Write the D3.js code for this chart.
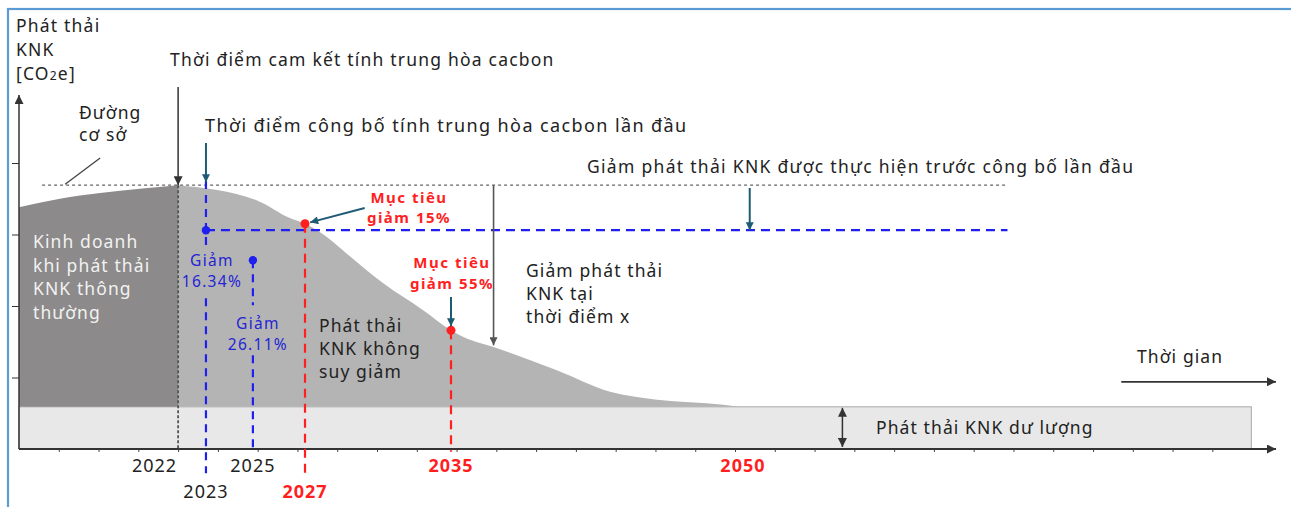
<!DOCTYPE html>
<html>
<head>
<meta charset="utf-8">
<script src="https://cdn.jsdelivr.net/npm/d3@7"></script>
<style>
  body { margin: 0; background: #fff; }
  svg { display: block; font-family: "Noto Sans", sans-serif; }
</style>
</head>
<body>
<div id="chart"></div>
<script>
// x is an abstract time unit (one axis tick = 1), y an abstract emission unit
const bauT = [0, 1.03, 2.04, 3.04, 4.0];
const bauV = [3.38, 3.50, 3.58, 3.64, 3.69];

const unabatedT = [4.0, 6.01, 6.81, 7.19, 7.89, 8.14, 9.15, 10.16, 10.86, 11.16, 12.02, 13.52, 14.86, 16.04, 17.70, 18.12];
const unabatedV = [3.69, 3.47, 3.23, 3.15, 2.90, 2.78, 2.32, 1.94, 1.66, 1.57, 1.41, 1.10, 0.80, 0.69, 0.62, 0.59];

const residualV = 0.59;
const residualEndT = 30.98;
const baselineV = 3.69;
const baselineT = [0.58, 24.85];

const yearLabels = ["2022", "2023", "2025", "2027", "2035", "2050"];
const yearT = [4.0, 4.7, 5.88, 7.19, 10.86, 18.2];
const yearRow = [0, 1, 0, 1, 0, 0];
const yearRed = [false, false, false, true, true, true];

const cutLabels = ["16.34%", "26.11%"];
const cutT = [4.7, 5.88];
const cutV = [3.06, 2.64];

const targetLabels = ["giảm 15%", "giảm 55%"];
const targetT = [7.19, 10.86];
const targetV = [3.15, 1.66];

const yTicks = [1, 2, 3, 4];
const xTicks = [1, 2, 3, 4, 5, 6, 7, 8, 9, 10, 11, 12, 13, 14, 15, 16, 17, 18, 19, 20, 21, 22, 23, 24, 25, 26, 27, 28, 29, 30];

const W = 1291, H = 507;
const BLUE = "#1f1ff0", BLUE_TXT = "#2424d4", RED = "#ff1f1f", TEAL = "#1d5b74", INK = "#222";

const svg = d3.select("#chart").append("svg").attr("width", W).attr("height", H);

const x = d3.scaleLinear().domain([0, 31.6]).range([19, 1276]);
const y = d3.scaleLinear().domain([0, 5]).range([449, 91.5]);

// arrow heads
const defs = svg.append("defs");
function marker(id, color, w, h) {
  defs.append("marker").attr("id", id)
    .attr("viewBox", "0 0 10 10").attr("refX", 10).attr("refY", 5)
    .attr("markerUnits", "userSpaceOnUse").attr("markerWidth", w).attr("markerHeight", h)
    .attr("orient", "auto-start-reverse")
    .append("path").attr("d", "M0,0L10,5L0,10Z").attr("fill", color);
}
marker("ink", "#333", 11, 9);
marker("gray", "#555", 11, 8);
marker("teal", TEAL, 10, 8);

// frame
svg.append("rect").attr("x", 8).attr("y", 9).attr("width", W).attr("height", H)
  .attr("fill", "none").attr("stroke", "#5b9bd5").attr("stroke-width", 2.2);

// residual band
svg.append("rect")
  .attr("x", x(0)).attr("y", y(residualV))
  .attr("width", x(residualEndT) - x(0)).attr("height", y(0) - y(residualV))
  .attr("fill", "#e8e8e8").attr("stroke", "#a8a8a8").attr("stroke-width", 1);

// areas
const area = d3.area().curve(d3.curveMonotoneX)
  .x(d => x(d[0])).y0(y(residualV)).y1(d => y(d[1]));
svg.append("path").datum(unabatedT.map((t, i) => [t, unabatedV[i]]))
  .attr("fill", "#b4b4b4").attr("d", area);
svg.append("path").datum(bauT.map((t, i) => [t, bauV[i]]))
  .attr("fill", "#8c8a8a").attr("d", area);

// axes
svg.append("g").attr("transform", `translate(0,${y(0)})`)
  .call(d3.axisBottom(x).tickValues(xTicks).tickFormat("").tickSize(3).tickSizeOuter(0))
  .call(g => g.select(".domain").remove())
  .call(g => g.selectAll("line").attr("stroke", "#444"));
svg.append("line").attr("x1", x(0)).attr("x2", x(31.6)).attr("y1", y(0)).attr("y2", y(0))
  .attr("stroke", "#333").attr("stroke-width", 2.2).attr("marker-end", "url(#ink)");
svg.append("g").attr("transform", `translate(${x(0)},0)`)
  .call(d3.axisLeft(y).tickValues(yTicks).tickFormat("").tickSize(7).tickSizeOuter(0))
  .call(g => g.select(".domain").remove())
  .call(g => g.selectAll("line").attr("stroke", "#333"));
svg.append("line").attr("x1", x(0)).attr("x2", x(0)).attr("y1", y(0)).attr("y2", y(4.95))
  .attr("stroke", "#333").attr("stroke-width", 1.5).attr("marker-end", "url(#ink)");

// baseline
svg.append("line").attr("x1", x(baselineT[0])).attr("x2", x(baselineT[1]))
  .attr("y1", y(baselineV)).attr("y2", y(baselineV))
  .attr("stroke", "#666").attr("stroke-width", 1.4).attr("stroke-dasharray", "3,3");
svg.append("line").attr("x1", x(1.16)).attr("y1", y(baselineV) - 1).attr("x2", x(2.04)).attr("y2", y(4.07))
  .attr("stroke", "#444").attr("stroke-width", 1.3);

// 2022 dotted separator
svg.append("line").attr("x1", x(yearT[0])).attr("x2", x(yearT[0]))
  .attr("y1", y(baselineV)).attr("y2", y(0))
  .attr("stroke", "#555").attr("stroke-width", 1.8).attr("stroke-dasharray", "3,2");

// dashed guide lines
const dashed = (x1, y1, x2, y2, color, dash) => svg.append("line")
  .attr("x1", x1).attr("y1", y1).attr("x2", x2).attr("y2", y2)
  .attr("stroke", color).attr("stroke-width", 2.2).attr("stroke-dasharray", dash);
dashed(x(cutT[0]), y(cutV[0]), x(baselineT[1]), y(cutV[0]), BLUE, "9,6");
dashed(x(cutT[0]), y(3.75), x(cutT[0]), y(2.84), BLUE, "8,6");
dashed(x(cutT[0]), y(2.11), x(cutT[0]), y(-0.34), BLUE, "8,6");
dashed(x(cutT[1]), y(cutV[1]), x(cutT[1]), y(2.01), BLUE, "8,6");
dashed(x(cutT[1]), y(1.31), x(cutT[1]), y(0), BLUE, "8,6");

dashed(x(targetT[0]), y(targetV[0]), x(targetT[0]), y(-0.41), RED, "9,6");
dashed(x(targetT[1]), y(targetV[1]), x(targetT[1]), y(-0.04), RED, "9,6");

// dots
svg.selectAll(".cut").data(cutT).join("circle").attr("class", "cut")
  .attr("cx", d => x(d)).attr("cy", (d, i) => y(cutV[i])).attr("r", 4.2).attr("fill", BLUE);
svg.selectAll(".target").data(targetT).join("circle").attr("class", "target")
  .attr("cx", d => x(d)).attr("cy", (d, i) => y(targetV[i])).attr("r", 4.5).attr("fill", RED);

// arrows
const arrow = (x1, y1, x2, y2, color, m, w) => svg.append("line")
  .attr("x1", x1).attr("y1", y1).attr("x2", x2).attr("y2", y2)
  .attr("stroke", color).attr("stroke-width", w).attr("marker-end", `url(#${m})`);
arrow(x(yearT[0]), 87, x(yearT[0]), y(baselineV), "#333", "ink", 1.5);
arrow(x(cutT[0]), 143, x(cutT[0]), y(baselineV) - 3, TEAL, "teal", 2);
arrow(x(18.37), y(3.65), x(18.37), y(cutV[0]), TEAL, "teal", 2);
arrow(x(8.69), y(3.37), x(7.32), y(3.17), TEAL, "teal", 2);
arrow(x(targetT[1]), 297, x(targetT[1]), y(targetV[1]) - 4, TEAL, "teal", 2);
arrow(x(11.93), y(baselineV), x(11.93), y(1.45), "#555", "gray", 1.6);
arrow(x(27.71), y(0.94), x(31.6), y(0.94), "#333", "ink", 1.8);
svg.append("line").attr("x1", x(20.7)).attr("x2", x(20.7)).attr("y1", y(residualV) + 1).attr("y2", y(0) - 2)
  .attr("stroke", "#333").attr("stroke-width", 1.5)
  .attr("marker-start", "url(#ink)").attr("marker-end", "url(#ink)");

// text helper
function lines(arr, px, py, gap, opts) {
  const t = svg.append("text").attr("x", px).attr("y", py)
    .attr("font-size", opts.size || 17.5).attr("fill", opts.fill || INK)
    .attr("letter-spacing", opts.ls == null ? 1.1 : opts.ls)
    .attr("font-weight", opts.weight || 400).attr("text-anchor", opts.anchor || "start");
  arr.forEach((s, i) => t.append("tspan").attr("x", px).attr("y", py + i * gap).text(s));
  return t;
}

// y axis title
lines(["Phát thải", "KNK"], 16, 32, 24, {ls: 1.2});
const co2 = svg.append("text").attr("x", 16).attr("y", 80).attr("font-size", 17.5)
  .attr("letter-spacing", 1.2).attr("fill", INK);
co2.append("tspan").text("[CO");
co2.append("tspan").attr("font-size", 12).text("2");
co2.append("tspan").text("e]");

lines(["Thời điểm cam kết tính trung hòa cacbon"], 170, 66, 0, {ls: 1.2});
lines(["Đường", "cơ sở"], 79, 119, 22, {});
lines(["Thời điểm công bố tính trung hòa cacbon lần đầu"], 205, 132, 0, {size: 18, ls: 1.4});
lines(["Giảm phát thải KNK được thực hiện trước công bố lần đầu"], 587, 173, 0, {ls: 1.3});

lines(["Kinh doanh", "khi phát thải", "KNK thông", "thường"], 33, 248, 23.5, {fill: "#f2f2f2"});
lines(["Phát thải", "KNK không", "suy giảm"], 319, 332, 23, {});
lines(["Giảm phát thải", "KNK tại", "thời điểm x"], 526, 277, 23, {});
lines(["Thời gian"], 1137, 363, 0, {});
lines(["Phát thải KNK dư lượng"], 876, 434, 0, {});

// reduction labels (blue)
lines(["Giảm", cutLabels[0]], x(cutT[0]) + 6, 266, 21, {size: 15.5, ls: 1.3, fill: BLUE_TXT, anchor: "middle"});
lines(["Giảm", cutLabels[1]], x(cutT[1]) + 5, 329, 21, {size: 15.5, ls: 1.3, fill: BLUE_TXT, anchor: "middle"});

// target labels (red)
lines(["Mục tiêu", targetLabels[0]], x(targetT[0]) + 104, 203, 20, {size: 15, ls: 1.5, fill: RED, weight: 700, anchor: "middle"});
lines(["Mục tiêu", targetLabels[1]], x(targetT[1]) + 1, 268, 21, {size: 15, ls: 1.5, fill: RED, weight: 700, anchor: "middle"});

// year labels
svg.selectAll(".year").data(yearLabels).join("text").attr("class", "year")
  .attr("x", (d, i) => i === 0 ? x(yearT[i]) - 1 : x(yearT[i]))
  .attr("y", (d, i) => yearRow[i] ? 498 : 472)
  .attr("text-anchor", (d, i) => i === 0 ? "end" : "middle")
  .attr("font-size", 18)
  .attr("letter-spacing", 1)
  .attr("font-weight", (d, i) => yearRed[i] ? 700 : 400)
  .attr("fill", (d, i) => yearRed[i] ? RED : INK)
  .text(d => d);
</script>
</body>
</html>
